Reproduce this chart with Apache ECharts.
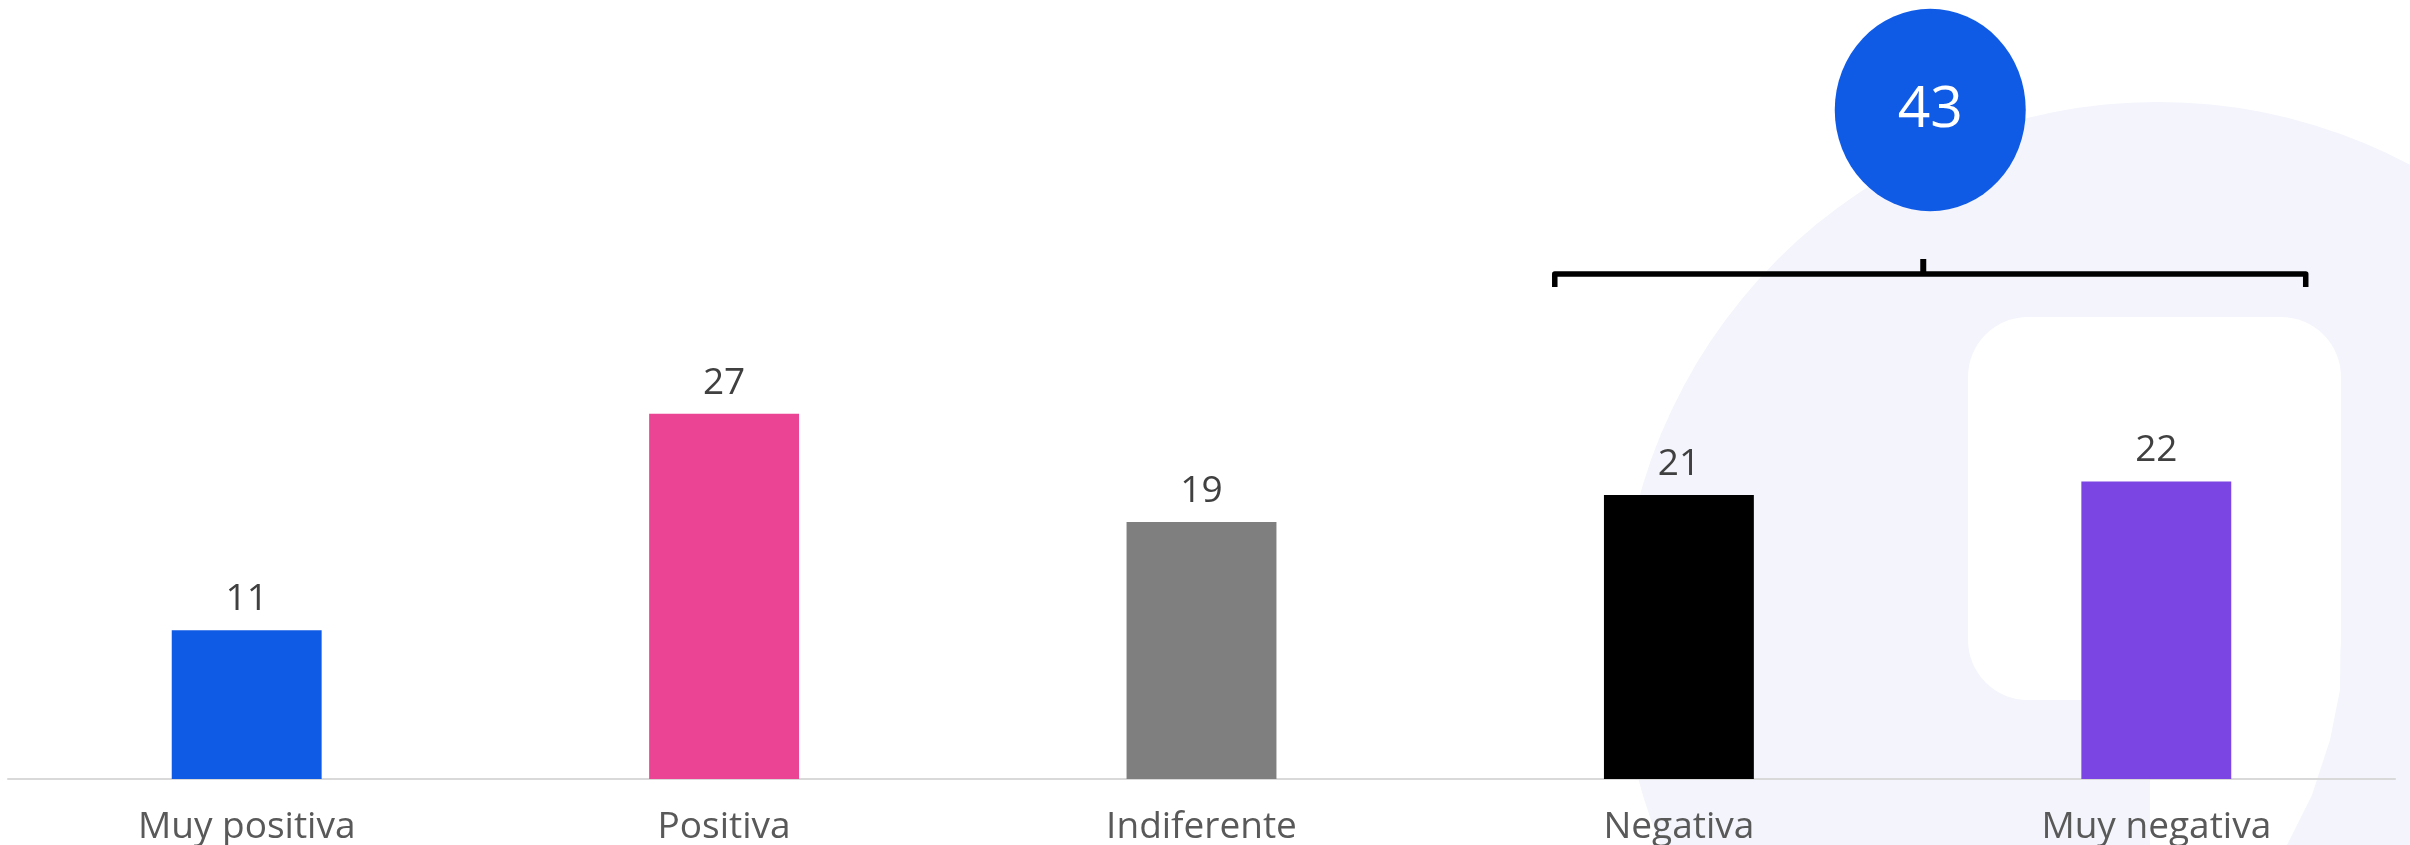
<!DOCTYPE html>
<html><head><meta charset="utf-8">
<script src="https://cdn.jsdelivr.net/npm/echarts@6/dist/echarts.min.js"></script>
<style>html,body{margin:0;padding:0;background:#fff}#c{width:2410px;height:845px}</style>
</head><body><div id="c"></div>
<script>
const categories = ['Muy positiva', 'Positiva', 'Indiferente', 'Negativa', 'Muy negativa'];
const values = [11, 27, 19, 21, 22];
const barColors = ['#105BE6', '#EC4495', '#7F7F7F', '#000000', '#7B45E4'];
const groupCategories = ['Negativa', 'Muy negativa'];
const groupTotal = [43];

const FONT = '"Open Sans", Roboto, sans-serif';
const chart = echarts.init(document.getElementById('c'), null, {renderer: 'canvas'});

chart.setOption({
  backgroundColor: '#ffffff',
  animation: false,
  grid: {left: 8, right: 15, top: 238, bottom: 66, containLabel: false, outerBoundsMode: 'none'},
  xAxis: {
    type: 'category',
    data: categories,
    axisLine: {lineStyle: {color: '#D9D9D9', width: 2}},
    axisTick: {show: false},
    axisLabel: {fontSize: 37, color: '#595959', margin: 30, fontFamily: FONT}
  },
  yAxis: {type: 'value', min: 0, max: 40, show: false, splitLine: {show: false}},
  series: [{
    type: 'bar',
    barWidth: '31.4%',
    z: 5,
    data: values.map((v, i) => ({value: v, itemStyle: {color: barColors[i]}})),
    label: {show: true, position: 'top', distance: 12, fontSize: 37, color: '#404040', fontFamily: FONT}
  }]
});

const xA = chart.convertToPixel({xAxisIndex: 0}, groupCategories[0]);
const xB = chart.convertToPixel({xAxisIndex: 0}, groupCategories[1]);
const band = xB - xA;
const bL = xA - 0.26 * band;
const bR = xB + 0.313 * band;
const bMid = (bL + bR) / 2;
const lineY = 274;

chart.setOption({
  graphic: [
    {type: 'circle', z: -10, silent: true, shape: {cx: 2158, cy: 640, r: 538}, style: {fill: '#F3F4FC'}},
    {type: 'rect', z: -9, silent: true, shape: {x: 1968, y: 317, width: 373, height: 383, r: 60}, style: {fill: '#ffffff'}},
    {type: 'polygon', z: -9, silent: true, shape: {points: [[2150, 600], [2341, 600], [2340, 690], [2330, 740], [2312, 795], [2287, 845], [2150, 845]]}, style: {fill: '#ffffff'}},
    {type: 'polyline', z: 10, silent: true, shape: {points: [[bL, 287], [bL, lineY], [bR, lineY], [bR, 287]]},
      style: {stroke: '#000000', lineWidth: 5.5, fill: null, lineJoin: 'round'}},
    {type: 'line', z: 10, silent: true, shape: {x1: bMid - 7, y1: 259, x2: bMid - 7, y2: lineY}, style: {stroke: '#000000', lineWidth: 6}},
    {type: 'circle', z: 10, silent: true, x: bMid, y: 110, scaleY: 1.06, shape: {cx: 0, cy: 0, r: 95.5}, style: {fill: '#105BE5'}},
    {type: 'text', z: 11, silent: true, x: bMid, y: 111,
      style: {text: String(groupTotal[0]), fill: '#ffffff', font: '57px ' + FONT, align: 'center', verticalAlign: 'middle', textAlign: 'center', textVerticalAlign: 'middle'}}
  ]
});
</script>
</body></html>
